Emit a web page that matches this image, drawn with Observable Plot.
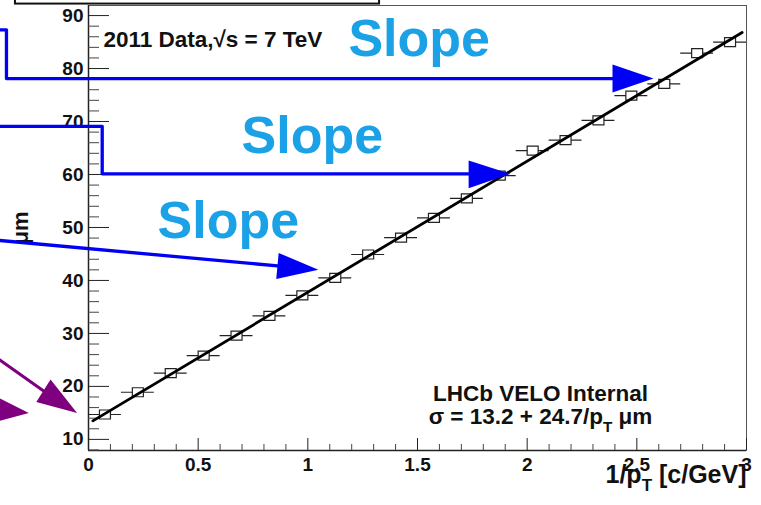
<!DOCTYPE html>
<html><head><meta charset="utf-8">
<script src="https://cdn.jsdelivr.net/npm/d3@7"></script>
<script src="https://cdn.jsdelivr.net/npm/@observablehq/plot@0.6"></script>
<style>body{margin:0;background:#fff}#chart svg{display:block}</style>
</head><body><div id="chart"></div>
<script>
// ---- data (x = 1/pT in c/GeV, y = sigma in um) ----
const xCenters = [0.075, 0.225, 0.375, 0.525, 0.675, 0.825, 0.975, 1.125, 1.275, 1.425,
                  1.575, 1.725, 1.875, 2.025, 2.175, 2.325, 2.475, 2.625, 2.775, 2.925];
const sigmaValues = [14.7, 18.9, 22.5, 25.8, 29.6, 33.3, 37.2, 40.5, 44.9, 48.1,
                     51.8, 55.5, 59.8, 64.5, 66.5, 70.2, 74.9, 77.1, 82.9, 85.0];
const xHalfWidth = 0.075;
const fitX = [0.02, 2.98];
const fitY = [13.5, 86.8];

// ---- axes ----
const xDomain = [0, 3];
const yDomain = [7.9, 91.9];
const xTicks = [0, 0.5, 1, 1.5, 2, 2.5, 3];
const xTickLabels = ["0", "0.5", "1", "1.5", "2", "2.5", "3"];
const xMinorTicks = [0.1, 0.2, 0.3, 0.4, 0.6, 0.7, 0.8, 0.9, 1.1, 1.2, 1.3, 1.4, 1.6, 1.7, 1.8, 1.9,
                     2.1, 2.2, 2.3, 2.4, 2.6, 2.7, 2.8, 2.9];
const yTicks = [10, 20, 30, 40, 50, 60, 70, 80, 90];
const yTickLabels = ["10", "20", "30", "40", "50", "60", "70", "80", "90"];
const yMinorTicks = [8, 12, 14, 16, 18, 22, 24, 26, 28, 32, 34, 36, 38, 42, 44, 46, 48, 52, 54, 56, 58,
                     62, 64, 66, 68, 72, 74, 76, 78, 82, 84, 86, 88];
const xTitle = "1/p_T [c/GeV]";
const yTitle = "μm";

// ---- texts ----
const topLabel = "2011 Data,√s = 7 TeV";
const legendLines = ["LHCb VELO Internal", "σ = 13.2 + 24.7/p_T μm"];
const slopeLabels = [
  {text: "Slope", x: 1.185, y: 82.45},
  {text: "Slope", x: 0.698, y: 64.15},
  {text: "Slope", x: 0.315, y: 48.1}
];

// ---- annotation arrows (data coordinates) ----
const blueShafts = [
  ["b1", -0.45, 87.3], ["b1", -0.374, 87.3], ["b1", -0.374, 78.1], ["b1", 2.40, 78.1],
  ["b2", -0.45, 69.1], ["b2", 0.0625, 69.1], ["b2", 0.0625, 60.13], ["b2", 1.74, 60.13],
  ["b3", -0.447, 47.7], ["b3", 0.862, 42.74]
];
const blueHeads = [
  ["b1", 2.576, 78.1], ["b1", 2.389, 80.75], ["b1", 2.389, 75.47],
  ["b2", 1.924, 60.13], ["b2", 1.733, 62.64], ["b2", 1.733, 57.42],
  ["b3", 1.048, 42.04], ["b3", 0.867, 45.19], ["b3", 0.856, 40.28]
];
const purpleShafts = [
  ["p1", -0.447, 26.25], ["p1", -0.206, 19.18],
  ["p2", -0.675, 16.7], ["p2", -0.454, 15.75]
];
const purpleHeads = [
  ["p1", -0.052, 14.96], ["p1", -0.173, 21.32], ["p1", -0.238, 17.04],
  ["p2", -0.272, 14.96], ["p2", -0.461, 12.9], ["p2", -0.446, 18.6]
];
const topBox = [{x1: -0.333, x2: 1.327, y1: 92.17, y2: 97}];

// ---- build ----
const W = 761, H = 505, ML = 88, MR = 15, MT = 5, MB = 55;
const plotW = W - ML - MR, plotH = H - MT - MB;
const rows = xCenters.map((x, i) => ({x, y: sigmaValues[i]}));
const fit = fitX.map((x, i) => ({x, y: fitY[i]}));
const pts = a => a.map(([id, x, y]) => ({id, x, y}));
const boxSym = {draw(ctx) { ctx.rect(-5.5, -4.5, 11, 9); }};
const BLUE = "#0000f5", PURPLE = "#7f007f", SKY = "#1ba1e6";
const FONT = "Liberation Sans, Arial, sans-serif";

const chart = Plot.plot({
  width: W, height: H,
  marginLeft: ML, marginRight: MR, marginTop: MT, marginBottom: MB,
  x: {domain: xDomain, axis: null},
  y: {domain: yDomain, axis: null},
  style: {background: "white", fontFamily: FONT, overflow: "visible"},
  marks: [
    Plot.frame({stroke: "#555", strokeWidth: 1}),
    Plot.ruleX([xDomain[0]], {stroke: "#222", strokeWidth: 1.5}),
    Plot.ruleY([yDomain[0]], {stroke: "#222", strokeWidth: 1.5}),
    // ticks (inward, ROOT style)
    Plot.tickY(yTicks, {y: d => d, insetRight: plotW - 21, stroke: "#222"}),
    Plot.tickY(yMinorTicks, {y: d => d, insetRight: plotW - 11, stroke: "#444"}),
    Plot.tickX(xTicks, {x: d => d, insetTop: plotH - 12, stroke: "#222"}),
    Plot.tickX(xMinorTicks, {x: d => d, insetTop: plotH - 6, stroke: "#444"}),
    // tick labels
    Plot.text(yTicks, {y: d => d, text: (d, i) => yTickLabels[i], frameAnchor: "left", dx: -5,
      textAnchor: "end", fontSize: 19, fontWeight: "bold", fill: "#111"}),
    Plot.text(xTicks, {x: d => d, text: (d, i) => xTickLabels[i], frameAnchor: "bottom", dy: 7,
      lineAnchor: "top", fontSize: 19, fontWeight: "bold", fill: "#111"}),
    // axis titles
    Plot.text([xTitle], {text: d => d, frameAnchor: "bottom-right", dy: 32, lineAnchor: "bottom",
      textAnchor: "end", fontSize: 25, fontWeight: "bold", fill: "#111"}),
    Plot.text([yTitle], {text: d => d, frameAnchor: "left", dx: -68, dy: 0, rotate: -90,
      textAnchor: "middle", fontSize: 22, fontWeight: "bold", fill: "#111"}),
    // data
    Plot.ruleY(rows, {y: "y", x1: d => d.x - xHalfWidth, x2: d => d.x + xHalfWidth, stroke: "#222", strokeWidth: 1.2}),
    Plot.dot(rows, {x: "x", y: "y", symbol: boxSym, stroke: "#222", strokeWidth: 1.2, fill: "white"}),
    Plot.line(fit, {x: "x", y: "y", stroke: "#000", strokeWidth: 2.8}),
    // in-plot texts
    Plot.text([topLabel], {text: d => d, x: 0.068, y: 84.0, textAnchor: "start", lineAnchor: "bottom",
      fontSize: 22.5, fontWeight: "bold", fill: "#111"}),
    Plot.text([legendLines[0]], {text: d => d, x: 2.061, y: 17.3, textAnchor: "middle", lineAnchor: "bottom",
      fontSize: 22.5, fontWeight: "bold", fill: "#111"}),
    Plot.text([legendLines[1]], {text: d => d, x: 2.061, y: 12.95, textAnchor: "middle", lineAnchor: "bottom",
      fontSize: 22.5, fontWeight: "bold", fill: "#111"}),
    // overlay annotations
    Plot.rect(topBox, {x1: "x1", x2: "x2", y1: "y1", y2: "y2", fill: "white", stroke: "#111", strokeWidth: 2}),
    Plot.line(pts(blueShafts), {x: "x", y: "y", z: "id", stroke: BLUE, strokeWidth: 3.3, curve: "linear"}),
    Plot.line(pts(blueHeads), {x: "x", y: "y", z: "id", fill: BLUE, stroke: "none"}),
    Plot.line(pts(purpleShafts), {x: "x", y: "y", z: "id", stroke: PURPLE, strokeWidth: 3}),
    Plot.line(pts(purpleHeads), {x: "x", y: "y", z: "id", fill: PURPLE, stroke: "none"}),
    Plot.text(slopeLabels, {x: "x", y: "y", text: "text", textAnchor: "start", lineAnchor: "bottom",
      fontSize: 52, fontWeight: "bold", fill: SKY})
  ]
});
document.getElementById("chart").appendChild(chart);

// subscript "_T" -> proper subscript tspans
const NS = "http://www.w3.org/2000/svg";
chart.querySelectorAll("text").forEach(t => {
  const s = t.textContent;
  if (!s.includes("_T")) return;
  const fs = parseFloat(getComputedStyle(t).fontSize) || 16;
  const [a, b] = s.split("_T");
  t.textContent = "";
  const t1 = document.createElementNS(NS, "tspan"); t1.textContent = a;
  const t2 = document.createElementNS(NS, "tspan"); t2.textContent = "T";
  t2.setAttribute("dy", (0.35 * fs).toFixed(1)); t2.setAttribute("font-size", (0.68 * fs).toFixed(1));
  const t3 = document.createElementNS(NS, "tspan"); t3.textContent = b;
  t3.setAttribute("dy", (-0.35 * fs).toFixed(1));
  t.append(t1, t2, t3);
});
</script></body></html>
